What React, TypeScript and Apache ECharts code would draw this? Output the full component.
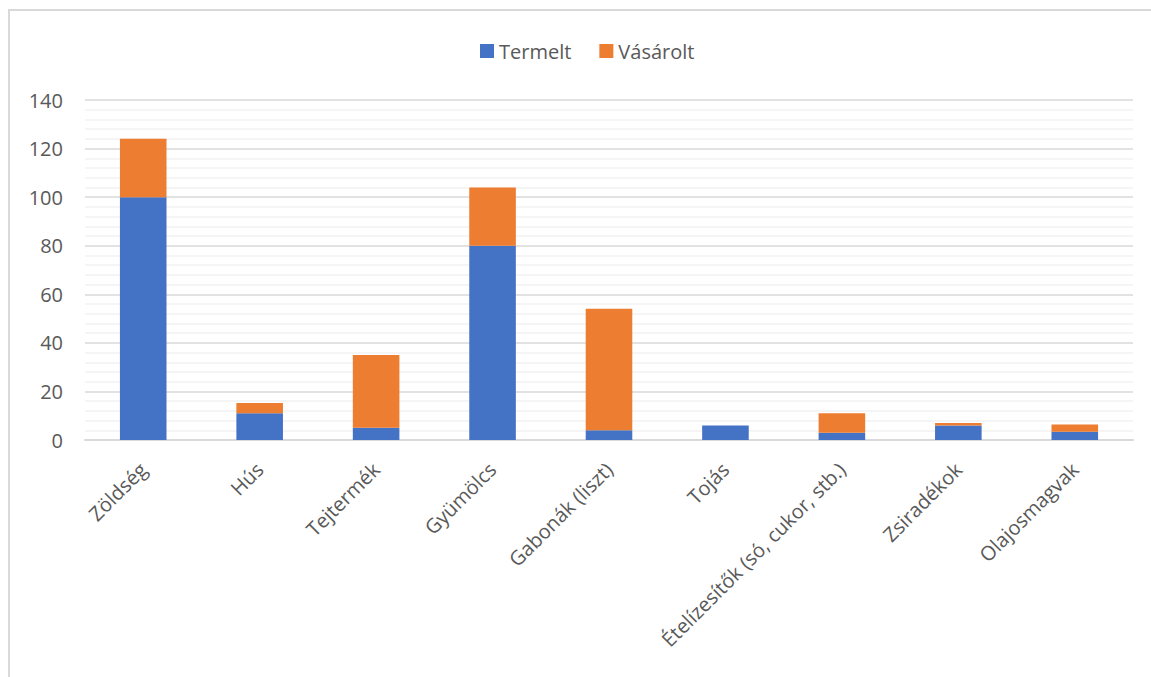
import React, { useEffect, useRef } from "react";
import * as echarts from "echarts";

const categories = [
  "Zöldség",
  "Hús",
  "Tejtermék",
  "Gyümölcs",
  "Gabonák (liszt)",
  "Tojás",
  "Ételízesítők (só, cukor, stb.)",
  "Zsiradékok",
  "Olajosmagvak",
];
const termelt = [100, 11, 5, 80, 4, 6, 3, 6, 3.4];
const vasarolt = [24, 4.2, 30, 24, 50, 0, 8, 1, 3];
const seriesNames = ["Termelt", "Vásárolt"];
const yTicks = { min: 0, max: 140, interval: 20 };

const FONT = "'Open Sans', 'Noto Sans', sans-serif";

export default function App() {
  const ref = useRef<HTMLDivElement>(null);
  useEffect(() => {
    if (!ref.current) return;
    const chart = echarts.init(ref.current, undefined, { renderer: "svg" });
    chart.setOption({
      animation: false,
      textStyle: { fontFamily: FONT },
      legend: {
        data: seriesNames,
        top: 25,
        left: 465,
        itemWidth: 14,
        itemHeight: 14,
        itemGap: 28,
        icon: "rect",
        textStyle: { fontSize: 20, color: "#595959", fontFamily: FONT },
      },
      grid: { left: 75, right: 18, top: 89, bottom: 237, containLabel: false },
      xAxis: {
        type: "category",
        data: categories,
        axisLine: { lineStyle: { color: "#d9d9d9", width: 2 } },
        axisTick: { show: false },
        axisLabel: {
          rotate: 45,
          interval: 0,
          margin: 26,
          fontSize: 20,
          color: "#595959",
          fontFamily: FONT,
        },
      },
      yAxis: {
        type: "value",
        min: yTicks.min,
        max: yTicks.max,
        interval: yTicks.interval,
        axisLine: { show: false },
        axisTick: { show: false },
        axisLabel: { fontSize: 20, color: "#595959", margin: 22, fontFamily: FONT },
        splitLine: { lineStyle: { color: "#d9d9d9", width: 1.5 } },
        minorTick: { show: false, splitNumber: 5 },
        minorSplitLine: { show: true, lineStyle: { color: "#f2f2f2", width: 1.5 } },
      },
      series: [
        {
          name: seriesNames[0],
          type: "bar",
          stack: "total",
          data: termelt,
          barWidth: "40%",
          itemStyle: { color: "#4472c4" },
        },
        {
          name: seriesNames[1],
          type: "bar",
          stack: "total",
          data: vasarolt,
          barWidth: "40%",
          itemStyle: { color: "#ed7d31" },
        },
      ],
    });
    return () => chart.dispose();
  }, []);

  return (
    <div
      style={{
        position: "absolute",
        left: 8,
        top: 9,
        width: 1143,
        height: 668,
        borderTop: "2px solid #d9d9d9",
        borderLeft: "2px solid #d9d9d9",
        boxSizing: "border-box",
        overflow: "hidden",
        background: "#fff",
      }}
    >
      <div ref={ref} style={{ width: 1141, height: 666 }} />
    </div>
  );
}
